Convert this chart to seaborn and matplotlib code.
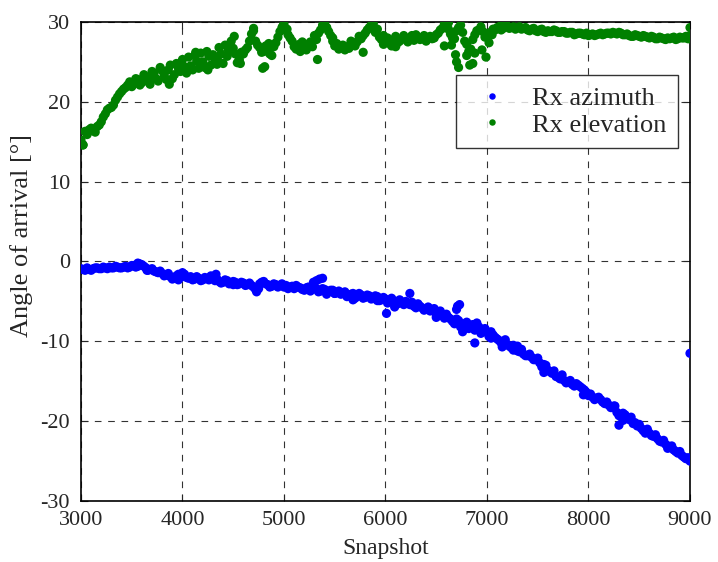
import matplotlib
matplotlib.use("Agg")
import matplotlib.pyplot as plt
import seaborn as sns
import numpy as np
import pandas as pd

# snapshot grid (every 40 snapshots) and values
snapshots = [3000, 3040, 3080, 3120, 3160, 3200, 3240, 3280, 3320, 3360,
             3400, 3440, 3480, 3520, 3560, 3600, 3640, 3680, 3720, 3760,
             3800, 3840, 3880, 3920, 3960, 4000, 4040, 4080, 4120, 4160,
             4200, 4240, 4280, 4320, 4360, 4400, 4440, 4480, 4520, 4560,
             4600, 4640, 4680, 4720, 4760, 4800, 4840, 4880, 4920, 4960,
             5000, 5040, 5080, 5120, 5160, 5200, 5240, 5280, 5320, 5360,
             5400, 5440, 5480, 5520, 5560, 5600, 5640, 5680, 5720, 5760,
             5800, 5840, 5880, 5920, 5960, 6000, 6040, 6080, 6120, 6160,
             6200, 6240, 6280, 6320, 6360, 6400, 6440, 6480, 6520, 6560,
             6600, 6640, 6680, 6720, 6760, 6800, 6840, 6880, 6920, 6960,
             7000, 7040, 7080, 7120, 7160, 7200, 7240, 7280, 7320, 7360,
             7400, 7440, 7480, 7520, 7560, 7600, 7640, 7680, 7720, 7760,
             7800, 7840, 7880, 7920, 7960, 8000, 8040, 8080, 8120, 8160,
             8200, 8240, 8280, 8320, 8360, 8400, 8440, 8480, 8520, 8560,
             8600, 8640, 8680, 8720, 8760, 8800, 8840, 8880, 8920, 8960,
             9000]

elevation = [15.2, 16.3, 16.5, 16.4, 16.9, 17.5, 18.5, 19.2, 19.6, 20.6,
             21.3, 21.8, 22.5, 22.3, 22.8, 22.4, 23.0, 22.2, 23.6, 22.6,
             23.9, 22.8, 24.6, 23.4, 24.2, 25.3, 23.6, 24.5, 25.8, 24.2,
             25.0, 26.3, 24.6, 25.4, 26.8, 24.8, 25.7, 27.6, 26.0, 25.3,
             26.0, 26.8, 28.5, 27.6, 26.8, 26.3, 26.5, 25.8, 27.4, 28.8,
             29.7, 28.4, 27.6, 26.6, 26.3, 26.8, 27.2, 26.9, 27.8, 29.0,
             29.8, 28.8, 27.6, 27.3, 26.8, 26.5, 26.7, 27.2, 27.5, 27.9,
             28.6, 29.3, 29.8, 29.1, 27.8, 27.5, 27.3, 27.7, 27.4, 27.9,
             27.8, 28.0, 27.7, 28.1, 27.9, 27.6, 28.2, 28.0, 28.6, 29.2,
             29.6, 28.5, 27.9, 29.3, 28.7, 27.2, 26.6, 28.4, 29.0, 28.8,
             28.3, 28.7, 29.0, 29.4, 29.2, 29.5, 29.3, 29.1, 29.4, 29.2,
             29.0, 29.1, 28.9, 29.0, 28.8, 28.9, 28.8, 28.9, 28.7, 28.8,
             28.6, 28.7, 28.5, 28.6, 28.4, 28.3, 28.5, 28.4, 28.6, 28.5,
             28.6, 28.7, 28.5, 28.6, 28.4, 28.3, 28.2, 28.3, 28.1, 28.2,
             28.0, 28.1, 27.9, 28.0, 27.8, 27.9, 28.1, 27.9, 28.0, 28.2,
             28.3]

azimuth = [-0.9, -1.1, -1.0, -0.9, -0.8, -0.9, -0.8, -0.7, -0.8, -0.7,
           -0.8, -0.6, -0.7, -0.5, -0.6, -0.4, -0.8, -1.0, -1.2, -1.4,
           -1.5, -1.7, -1.9, -2.1, -1.6, -1.8, -2.0, -1.9, -2.2, -2.1,
           -2.3, -2.1, -1.8, -2.4, -2.5, -2.6, -2.4, -2.7, -2.6, -2.8,
           -2.7, -2.9, -3.0, -3.5, -2.8, -2.5, -2.9, -3.1, -2.9, -3.0,
           -3.2, -3.4, -3.1, -3.0, -3.3, -3.6, -3.2, -3.5, -3.4, -3.7,
           -3.5, -3.8, -3.6, -3.9, -4.1, -3.8, -4.3, -4.0, -4.4, -4.2,
           -4.5, -4.3, -4.6, -4.4, -4.8, -4.7, -5.0, -4.9, -5.3, -5.1,
           -5.0, -5.4, -5.6, -5.3, -5.8, -6.0, -6.2, -5.9, -6.4, -6.8,
           -6.6, -7.2, -7.8, -7.4, -8.0, -7.6, -8.0, -8.6, -8.2, -8.6,
           -8.9, -8.8, -9.5, -9.9, -10.1, -10.4, -10.8, -10.9, -11.3, -11.6,
           -11.8, -12.0, -12.3, -12.7, -12.9, -13.6, -14.0, -14.4, -14.7, -14.9,
           -15.1, -15.4, -15.3, -15.7, -16.1, -16.8, -17.0, -17.1, -17.3, -17.8,
           -18.0, -18.3, -18.9, -19.4, -19.2, -19.8, -20.3, -20.6, -20.9, -21.3,
           -21.5, -21.9, -22.2, -22.6, -22.9, -23.3, -23.6, -24.0, -24.3, -24.7,
           -25.0]

# in-between snapshots (3020 ... 8980) to fill the dense bands
mid_snapshots = [s + 20 for s in snapshots[:-1]]

elevation_mid = [14.6, 16.0, 16.7, 16.2, 17.1, 18.1, 19.0, 19.3, 20.2, 21.0,
                 21.6, 22.1, 22.0, 22.9, 22.1, 23.4, 22.6, 23.8, 22.9, 24.3,
                 23.3, 24.0, 22.9, 24.8, 23.8, 24.4, 25.6, 24.0, 25.1, 26.1,
                 24.3, 25.7, 25.9, 24.7, 26.0, 27.1, 26.4, 26.7, 24.9, 26.2,
                 26.5, 27.6, 28.9, 27.1, 26.2, 27.0, 26.0, 26.9, 28.1, 29.3,
                 29.0, 28.0, 26.9, 26.9, 27.5, 26.5, 27.5, 28.3, 28.6, 29.6,
                 29.3, 28.3, 27.0, 26.6, 27.1, 26.9, 27.6, 27.0, 28.2, 28.3,
                 29.0, 29.6, 28.7, 28.1, 27.2, 28.0, 27.0, 28.2, 27.6, 28.3,
                 27.5, 28.3, 28.4, 27.8, 28.3, 28.0, 27.9, 28.4, 29.0, 29.7,
                 29.1, 28.0, 28.9, 29.6, 27.6, 26.3, 27.8, 28.9, 29.4, 28.1,
                 28.6, 29.1, 29.3, 29.0, 29.6, 29.2, 29.4, 29.3, 29.1, 29.3,
                 28.9, 29.2, 28.8, 29.1, 28.7, 28.8, 29.0, 28.7, 28.8, 28.6,
                 28.7, 28.4, 28.6, 28.5, 28.6, 28.4, 28.3, 28.5, 28.4, 28.6,
                 28.5, 28.6, 28.7, 28.4, 28.5, 28.2, 28.4, 28.2, 28.3, 28.1,
                 28.2, 27.9, 28.1, 27.9, 28.0, 28.0, 27.8, 28.1, 28.0, 27.9]

azimuth_mid = [-1.0, -0.8, -1.1, -0.8, -0.9, -0.7, -0.9, -0.8, -0.6, -0.8,
               -0.7, -0.8, -0.5, -0.7, -0.3, -0.6, -1.1, -0.9, -1.3, -1.2,
               -1.8, -1.5, -2.2, -1.8, -2.0, -1.6, -2.1, -2.3, -1.9, -2.4,
               -2.0, -2.3, -2.1, -2.2, -2.7, -2.3, -2.8, -2.5, -2.9, -2.6,
               -3.0, -2.7, -3.2, -3.3, -2.6, -2.8, -3.2, -2.8, -3.2, -2.8,
               -3.0, -3.2, -3.4, -3.2, -3.5, -3.3, -3.7, -3.3, -3.8, -3.4,
               -3.7, -3.6, -4.0, -3.7, -3.9, -4.4, -4.1, -4.6, -4.0, -4.6,
               -4.2, -4.7, -4.3, -4.9, -4.5, -5.2, -4.6, -5.4, -4.8, -5.4,
               -5.2, -5.1, -5.8, -5.6, -6.1, -5.7, -6.0, -6.6, -6.2, -7.1,
               -7.0, -7.5, -7.2, -8.2, -7.8, -8.4, -7.9, -8.3, -9.0, -8.4,
               -9.4, -9.2, -9.7, -10.2, -9.8, -10.6, -10.5, -11.2, -11.0, -11.8,
               -11.6, -12.3, -12.1, -13.2, -13.0, -13.8, -13.7, -14.5, -14.2, -15.2,
               -14.9, -15.6, -15.5, -15.9, -16.4, -16.6, -17.3, -17.0, -17.6, -17.6,
               -18.3, -18.1, -19.3, -19.0, -19.6, -19.5, -20.2, -20.4, -21.2, -21.0,
               -21.8, -21.7, -22.5, -22.4, -23.1, -23.1, -23.8, -23.8, -24.5, -24.6]

# extra scattered points (band spread and outliers)
elev_extra_x = [3020, 3060, 3500, 3700, 3870, 3990, 4130, 4250, 4360, 4450,
                4510, 4570, 4700, 4790, 4810, 4850, 4990, 5030, 5150, 5330,
                5420, 5480, 5780, 5870, 5980, 6100, 6580, 6620, 6650, 6690,
                6700, 6720, 6800, 6830, 6860, 6880, 6950, 6990, 7020, 7050,
                7150, 9000, 9000]
elev_extra_y = [14.6, 15.9, 21.9, 23.4, 22.2, 24.9, 26.2, 24.0, 25.0, 26.6,
                28.2, 24.8, 29.2, 24.2, 24.4, 27.3, 29.5, 29.1, 27.2, 25.3,
                29.3, 28.0, 26.2, 29.6, 28.3, 26.9, 27.0, 29.9, 27.1, 25.9,
                25.0, 24.3, 25.8, 24.6, 24.8, 26.1, 26.5, 25.6, 27.4, 28.4,
                29.8, 29.3, 27.9]

azim_extra_x = [3560, 3580, 3650, 3960, 4000, 4330, 4500, 4730, 4750, 5290,
                5320, 5350, 5380, 5420, 5500, 5680, 5700, 5920, 6010, 6090,
                6240, 6500, 6700, 6710, 6730, 6760, 6880, 6900, 7040, 7150,
                7260, 7300, 7560, 7950, 8250, 8300, 8340, 8450, 8560, 8780,
                8980, 9000]
azim_extra_y = [-0.2, -0.4, -1.1, -2.3, -1.4, -1.6, -2.9, -3.8, -3.4, -2.6,
                -2.4, -2.2, -2.1, -4.1, -4.0, -4.8, -4.4, -4.9, -6.5, -5.7,
                -4.0, -7.0, -6.0, -5.6, -5.4, -8.8, -10.2, -7.7, -9.6, -10.7,
                -11.1, -10.6, -13.9, -16.7, -18.1, -20.5, -19.9, -20.2, -21.5, -23.4,
                -24.6, -11.5]

df = pd.concat([
    pd.DataFrame({"Snapshot": snapshots + mid_snapshots + azim_extra_x,
                  "Angle": azimuth + azimuth_mid + azim_extra_y,
                  "series": "Rx azimuth"}),
    pd.DataFrame({"Snapshot": snapshots + mid_snapshots + elev_extra_x,
                  "Angle": elevation + elevation_mid + elev_extra_y,
                  "series": "Rx elevation"}),
], ignore_index=True)

sns.set_style("white")
plt.rcParams['font.family'] = ['Liberation Serif', 'DejaVu Serif']
plt.rcParams['axes.unicode_minus'] = False

fig = plt.figure(figsize=(7.18, 5.62), dpi=100)
ax = fig.add_axes([0.1128, 0.1085, 0.8482, 0.8524])

sns.scatterplot(data=df, x="Snapshot", y="Angle", hue="series",
                palette={"Rx azimuth": "#0000ff", "Rx elevation": "#008000"},
                s=44, linewidth=0, ax=ax, zorder=3)

ax.set_xlim(3000, 9000)
ax.set_ylim(-30, 30)
ax.set_xticks([3000, 4000, 5000, 6000, 7000, 8000, 9000])
ax.set_yticks([-30, -20, -10, 0, 10, 20, 30])
ax.grid(True, color="black", linestyle=(0, (6, 6)), linewidth=0.8, alpha=0.8)
ax.tick_params(direction="in", length=5, labelsize=16, top=True, right=True,
               bottom=True, left=True)
ax.tick_params(axis="x", pad=7)
ax.tick_params(axis="y", pad=8)
for sp in ax.spines.values():
    sp.set_color("black")
    sp.set_linewidth(1.2)
ax.set_xlabel("Snapshot", fontsize=17, labelpad=6)
ax.set_ylabel("Angle of arrival [°]", fontsize=19)
ax.yaxis.set_label_coords(-0.078, 0.555)

handles, labels = ax.get_legend_handles_labels()
leg = ax.legend(handles, labels, loc="upper right", bbox_to_anchor=(0.98, 0.889),
                borderaxespad=0, fontsize=19, frameon=True, fancybox=False,
                edgecolor="black", markerscale=0.7, handlelength=1.8,
                handletextpad=0.6, borderpad=0.45, labelspacing=0.1)
leg.get_frame().set_linewidth(1.0)

fig.savefig("out.png", dpi=100)
